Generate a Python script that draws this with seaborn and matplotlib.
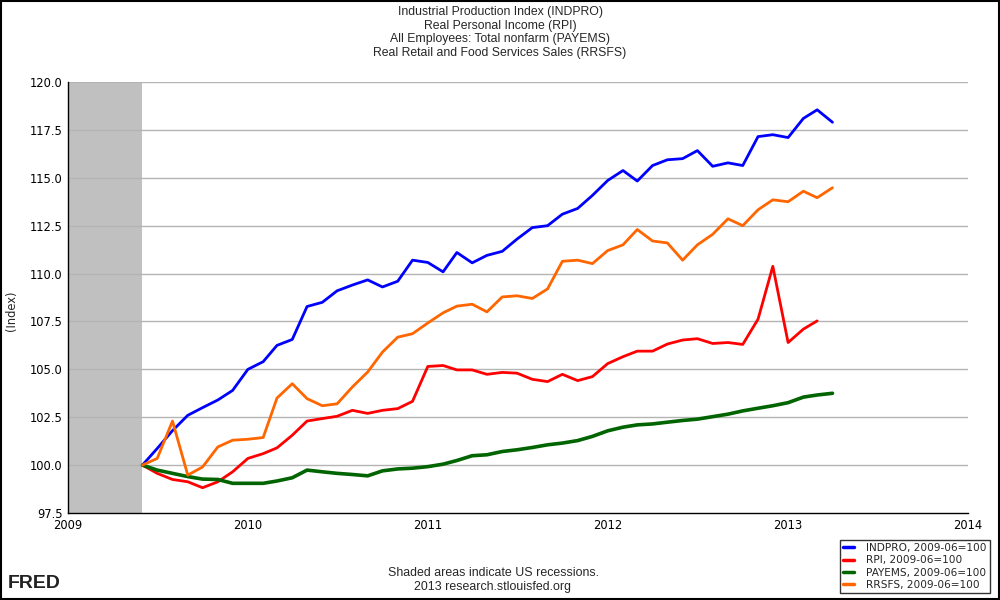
import numpy as np
import pandas as pd
import matplotlib
matplotlib.use("Agg")
import matplotlib.pyplot as plt
from matplotlib.patches import Rectangle
from matplotlib.lines import Line2D
import seaborn as sns

# ---- data (index, 2009-06 = 100) ----
indpro = [100.0, 100.87, 101.8, 102.6, 103.0, 103.4, 103.9, 105.0, 105.4, 106.25,
          106.56, 108.28, 108.5, 109.1, 109.4, 109.67, 109.3, 109.6, 110.7, 110.58,
          110.09, 111.1, 110.56, 110.95, 111.16, 111.8, 112.4, 112.5, 113.1, 113.4,
          114.08, 114.86, 115.38, 114.83, 115.64, 115.94, 116.0, 116.42, 115.6, 115.78,
          115.64, 117.15, 117.25, 117.1, 118.1, 118.55, 117.9]
rpi = [100.0, 99.57, 99.25, 99.13, 98.82, 99.13, 99.65, 100.35, 100.6, 100.9,
       101.56, 102.3, 102.43, 102.55, 102.86, 102.7, 102.86, 102.95, 103.33, 105.15,
       105.2, 104.97, 104.97, 104.74, 104.84, 104.8, 104.48, 104.36, 104.74, 104.41,
       104.62, 105.3, 105.66, 105.95, 105.95, 106.32, 106.53, 106.6, 106.35, 106.4,
       106.3, 107.62, 110.38, 106.4, 107.1, 107.53]
payems = [100.0, 99.74, 99.57, 99.4, 99.27, 99.25, 99.05, 99.05, 99.05, 99.17,
          99.34, 99.74, 99.65, 99.57, 99.51, 99.44, 99.7, 99.8, 99.84, 99.92,
          100.05, 100.24, 100.49, 100.54, 100.71, 100.8, 100.92, 101.06, 101.15, 101.28,
          101.5, 101.79, 101.98, 102.1, 102.15, 102.24, 102.33, 102.4, 102.53, 102.66,
          102.83, 102.97, 103.1, 103.26, 103.55, 103.66, 103.75]
rrsfs = [100.0, 100.35, 102.3, 99.48, 99.9, 100.95, 101.3, 101.35, 101.44, 103.5,
         104.25, 103.47, 103.1, 103.2, 104.08, 104.86, 105.9, 106.68, 106.86, 107.42,
         107.95, 108.3, 108.4, 108.0, 108.78, 108.84, 108.7, 109.2, 110.64, 110.7,
         110.52, 111.2, 111.5, 112.3, 111.7, 111.6, 110.7, 111.5, 112.05, 112.86,
         112.5, 113.33, 113.85, 113.75, 114.3, 113.96, 114.48]
series_names = ["INDPRO, 2009-06=100", "RPI, 2009-06=100",
                "PAYEMS, 2009-06=100", "RRSFS, 2009-06=100"]
series_values = [indpro, rpi, payems, rrsfs]
colors = ["#0000ff", "#ff0000", "#006400", "#ff6600"]
start_date = "2009-06-01"
recession_start = "2009-01-01"
recession_end = "2009-06-01"
title_lines = ["Industrial Production Index (INDPRO)",
               "Real Personal Income (RPI)",
               "All Employees: Total nonfarm (PAYEMS)",
               "Real Retail and Food Services Sales (RRSFS)"]
y_ticks = [97.5, 100.0, 102.5, 105.0, 107.5, 110.0, 112.5, 115.0, 117.5, 120.0]
x_years = [2009, 2010, 2011, 2012, 2013, 2014]

frames = []
for name, vals in zip(series_names, series_values):
    d = pd.date_range(start_date, periods=len(vals), freq="MS")
    frames.append(pd.DataFrame({"date": d, "value": vals, "series": name}))
df = pd.concat(frames, ignore_index=True)

sns.set_style("white")
plt.rcParams["font.family"] = ["DejaVu Sans"]

fig = plt.figure(figsize=(10, 6), dpi=100)
ax = fig.add_axes([0.068, 0.145, 0.900, 0.7183])

ax.axvspan(pd.Timestamp(recession_start), pd.Timestamp(recession_end),
           color="#c0c0c0", zorder=0, lw=0)

sns.lineplot(data=df, x="date", y="value", hue="series", palette=colors,
             hue_order=series_names, ax=ax, linewidth=2.0, legend=False,
             estimator=None, zorder=3)
for line, name in zip(ax.get_lines(), series_names):
    if name.startswith("PAYEMS"):
        line.set_linewidth(2.6)

ax.set_xlim(pd.Timestamp("2009-01-01"), pd.Timestamp("2014-01-01"))
ax.set_ylim(97.5, 120.0)
ax.set_yticks(y_ticks)
ax.set_yticklabels([f"{t:.1f}" for t in y_ticks])
ax.set_xticks([pd.Timestamp(f"{y}-01-01") for y in x_years])
ax.set_xticklabels([str(y) for y in x_years])

for t in y_ticks[1:]:
    ax.axhline(t, color="#b4b4b4", lw=1.0, zorder=1)

for s in ["top", "right"]:
    ax.spines[s].set_visible(False)
for s in ["left", "bottom"]:
    ax.spines[s].set_color("black")
    ax.spines[s].set_linewidth(1.0)
ax.tick_params(axis="both", direction="in", length=4, width=1, colors="black",
               labelsize=8.3, pad=4)
ax.tick_params(axis="x", pad=4)
ax.set_xlabel("")
ax.set_ylabel("(Index)", fontsize=8.3)
ax.yaxis.set_label_coords(-0.056, 0.47)

for i, tl in enumerate(title_lines):
    fig.text(0.5, 1 - (12 + 13.7 * i) / 600, tl, ha="center", va="center",
             fontsize=8.8, family=["Liberation Sans", "DejaVu Sans"])

fig.text(0.493, 1 - 573 / 600, "Shaded areas indicate US recessions.",
         ha="center", va="center", fontsize=8.9, family=["Liberation Sans", "DejaVu Sans"])
fig.text(0.493, 1 - 587 / 600, "2013 research.stlouisfed.org",
         ha="center", va="center", fontsize=8.9, family=["Liberation Sans", "DejaVu Sans"])
fig.text(0.008, 1 - 584 / 600, "FRED", ha="left", va="center", fontsize=14,
         fontweight="bold", color="#222222", family=["Liberation Sans", "DejaVu Sans"])

handles = [Line2D([], [], color=c, lw=2.5) for c in colors]
leg = fig.legend(handles, series_names, loc="upper right",
                 bbox_to_anchor=(0.990, 1 - 540 / 600), fontsize=7.6,
                 frameon=True, fancybox=False, handlelength=1.0,
                 handletextpad=1.2, borderpad=0.3, labelspacing=0.22,
                 borderaxespad=0)
leg.get_frame().set_edgecolor("black")
leg.get_frame().set_linewidth(1.0)

fig.patches.append(Rectangle((0.0005, 0.001), 0.998, 0.998, transform=fig.transFigure,
                             fill=False, edgecolor="black", lw=1.5))

fig.savefig("out.png", dpi=100)
